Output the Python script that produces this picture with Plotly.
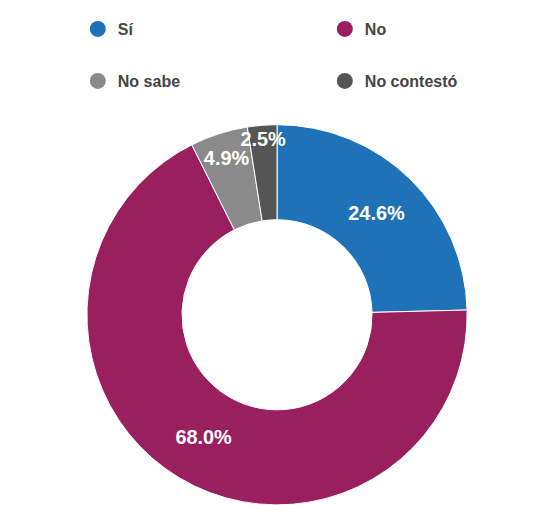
import plotly.graph_objects as go

labels = ["Sí", "No", "No sabe", "No contestó"]
values = [24.6, 68.0, 4.9, 2.5]
colors = ["#1f72b8", "#9a1f5f", "#8a8a8a", "#555555"]

fig = go.Figure()
fig.add_trace(go.Pie(
    labels=labels, values=values, sort=False, direction="clockwise", rotation=0,
    hole=0.5,
    marker=dict(colors=colors, line=dict(color="white", width=1)),
    texttemplate="%{value:.1f}%", textposition="inside",
    insidetextorientation="horizontal",
    textfont=dict(family="Liberation Sans", size=20, color="white", weight="bold"),
    showlegend=False, hoverinfo="label+value",
    domain=dict(x=[0.147, 0.855], y=[0.01, 0.775]),
))

legend_names = ["legend", "legend2", "legend3", "legend4"]
for lab, col, lg in zip(labels, colors, legend_names):
    fig.add_trace(go.Scatter(
        x=[None], y=[None], mode="markers", name=lab,
        marker=dict(color=col, size=18, symbol="circle"),
        legend=lg,
    ))

legend_common = dict(
    orientation="h", xanchor="left", yanchor="middle",
    font=dict(family="Liberation Sans", size=16, color="#444444", weight="bold"),
    bgcolor="rgba(0,0,0,0)", itemsizing="trace",
)
fig.update_layout(
    width=537, height=505,
    margin=dict(l=0, r=0, t=0, b=0),
    paper_bgcolor="white", plot_bgcolor="white",
    xaxis=dict(visible=False), yaxis=dict(visible=False),
    uniformtext=dict(minsize=19, mode="show"),
    legend=dict(x=0.13, y=1 - 21 / 505, **legend_common),
    legend2=dict(x=0.59, y=1 - 21 / 505, **legend_common),
    legend3=dict(x=0.13, y=1 - 73 / 505, **legend_common),
    legend4=dict(x=0.59, y=1 - 73 / 505, **legend_common),
)

fig.write_html("out.html")
